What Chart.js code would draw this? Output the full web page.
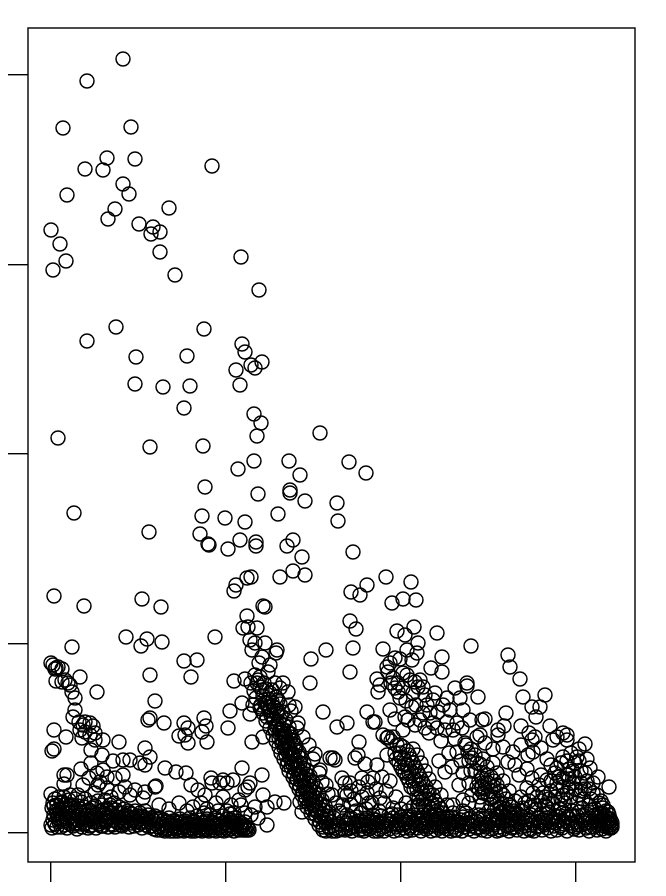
<!DOCTYPE html>
<html>
<head>
<meta charset="utf-8">
<style>
html, body { margin: 0; padding: 0; background: #fff; }
#wrap { width: 666px; height: 896px; }
</style>
<script src="https://cdn.jsdelivr.net/npm/chart.js@4/dist/chart.umd.min.js"></script>
</head>
<body>
<div id="wrap"><canvas id="scatter" width="666" height="896"></canvas></div>
<script>
// axis ticks (the reference has no tick labels)
const xTicks = [0, 175, 350, 525];
const yTicks = [0, 189.5, 379, 568.5, 758];

// values, [x, y]
const upperPts = [[72,774],[36,752],[12,705],[80,706],[56,675],[84,674],[34,664],[52,663],[161,667],[72,649],[78,639],[16,638],[118,625],[64,624],[57,614],[88,609],[102,606],[100,599],[109,601],[0,603],[9,589],[15,572],[2,563],[109,581],[190,576],[124,558],[208,543],[65,506],[153,504],[36,492],[191,489],[194,481],[85,476],[136,477],[211,471],[200,468],[204,465],[185,463],[189,448],[84,449],[112,446],[139,447],[133,425],[203,419],[210,410],[206,397],[269,400],[7,395],[99,386],[152,387],[203,372],[187,364],[238,372],[249,358],[298,371],[315,360],[154,346],[239,343],[239,340],[207,339],[254,332],[286,330],[287,312],[23,320],[151,317],[174,315],[194,311],[227,319],[98,301],[149,299],[157,289],[158,288],[177,284],[189,293],[205,291],[205,287],[242,293],[236,287],[251,276],[302,281],[242,262],[254,258],[229,256],[196,255],[200,256],[185,248],[183,242],[300,241],[316,248],[309,238],[335,256],[360,251],[341,230],[352,234],[365,233],[3,237],[33,227],[91,234],[110,226],[212,227],[214,226]];

const midLeftPts = [[75,196],[96,194],[90,187],[111,191],[164,196],[21,186],[133,172],[146,173],[140,156],[99,158],[46,141],[104,132],[0,170],[2,168],[5,165],[7,166],[4,164],[11,164],[5,152],[11,151],[14,153],[17,150],[19,148],[21,141],[24,135],[24,123],[22,116],[29,156],[3,103],[15,96],[28,111],[32,108],[34,111],[39,110],[42,107],[29,103],[34,101],[39,98],[31,95],[44,100],[68,91],[52,93],[44,93],[1,82],[3,84],[99,115],[97,113],[113,110],[133,110],[128,97],[137,90],[137,105],[153,115],[155,107],[151,101],[156,91],[134,98],[94,85],[99,76]];

const lowLeftPts = [[40,83],[51,78],[62,72],[72,73],[79,73],[89,70],[94,68],[30,64],[13,58],[16,58],[13,49],[40,70],[46,60],[52,63],[56,56],[64,55],[72,58],[49,51],[32,48],[0,39],[94,41],[84,43],[92,35],[68,41],[56,45],[44,40],[27,38],[19,38],[114,65],[125,61],[135,60],[140,48],[147,43],[154,38],[176,50],[169,50],[161,50],[160,55],[104,46],[105,47],[172,53],[182,53],[191,65],[211,58],[194,43],[197,46],[199,50],[212,38],[204,26],[207,15],[216,8],[216,26],[224,31],[233,30],[201,91],[212,96],[165,30],[172,36],[180,28],[188,33],[150,30],[142,26],[128,30],[38,55],[47,48],[60,36],[74,46],[79,38],[108,28],[118,24],[136,22],[156,24],[176,22],[194,20],[190,28],[200,18],[183,20]];

const leftBandPts = [[0,8],[1,25],[1,5],[2,30],[2,13],[3,18],[4,34],[4,9],[5,22],[6,6],[6,28],[7,15],[8,36],[8,11],[9,20],[10,6],[10,30],[11,25],[12,14],[13,36],[13,8],[14,20],[15,29],[16,5],[16,12],[17,24],[18,33],[19,9],[20,17],[21,28],[22,7],[23,14],[24,34],[24,22],[25,10],[26,4],[27,27],[28,16],[29,9],[30,31],[30,20],[31,6],[32,13],[33,26],[34,34],[35,10],[36,18],[37,5],[38,23],[39,14],[40,30],[41,8],[42,20],[43,11],[44,27],[45,5],[46,16],[47,32],[48,9],[49,22],[50,13],[51,28],[52,7],[53,18],[54,33],[55,11],[56,24],[57,6],[58,15],[59,28],[60,9],[61,20],[62,13],[63,30],[64,6],[65,23],[66,16],[67,10],[68,26],[69,13],[70,20],[71,7],[72,15],[73,24],[74,10],[75,18],[76,12],[77,22],[78,6],[79,15],[80,10],[81,19],[82,13],[83,7],[84,22],[85,11],[86,17],[87,8],[88,14],[89,20],[90,10],[91,5],[92,16],[93,12],[94,22],[95,8],[96,14],[97,18],[98,6],[99,11],[100,15],[12,24],[27,18],[9,13],[33,9],[21,12],[41,25],[56,16],[18,21],[37,13],[50,7],[66,11],[44,18],[60,25],[74,17],[29,24],[15,16],[52,23],[70,8],[83,15],[90,17],[78,20],[62,8],[47,11],[35,22],[24,9],[6,19],[3,27],[11,31],[31,15],[54,13],[67,20],[86,12],[94,15],[58,20],[72,11],[39,7],[26,13],[43,15],[19,27],[8,24]];

const floorOnePts = [[101,7],[102,13],[103,4],[104,17],[105,9],[106,3],[107,12],[108,6],[109,15],[110,3],[111,9],[112,5],[113,13],[114,2],[115,7],[116,11],[117,4],[118,15],[119,2],[120,8],[121,5],[122,12],[123,2],[124,7],[125,4],[126,10],[127,2],[128,6],[129,14],[130,3],[131,9],[132,5],[133,2],[134,12],[135,7],[136,3],[137,10],[138,5],[139,15],[140,2],[141,8],[142,4],[143,12],[144,2],[145,6],[146,17],[147,9],[148,3],[149,13],[150,5],[151,2],[152,10],[153,20],[154,6],[155,3],[156,14],[157,8],[158,2],[159,18],[160,5],[161,11],[162,3],[163,7],[164,15],[165,2],[166,9],[167,22],[168,5],[169,12],[170,3],[171,7],[172,17],[173,2],[174,10],[175,5],[176,14],[177,3],[178,8],[179,19],[180,4],[181,11],[182,6],[183,2],[184,15],[185,8],[186,4],[187,12],[188,3],[189,7],[190,10],[191,5],[192,3],[193,8],[194,5],[195,3],[196,6],[197,4],[198,3],[112,9],[127,6],[141,11],[106,14],[119,10],[133,7],[148,8],[162,10],[176,8],[190,6],[155,12],[169,6],[183,10],[124,12],[138,3],[152,4],[166,13],[180,13],[194,11],[116,4],[130,11],[144,8],[158,6],[172,10],[186,9]];

const streamPts = [[205,135],[212,137],[218,134],[225,136],[210,128],[216,130],[222,127],[229,129],[212,120],[219,122],[226,119],[232,121],[215,112],[222,114],[228,111],[235,113],[219,105],[225,107],[231,104],[238,106],[222,98],[228,100],[234,97],[240,99],[225,92],[231,94],[237,91],[242,93],[228,86],[234,88],[239,85],[245,87],[230,80],[236,82],[242,79],[248,81],[233,74],[239,76],[245,73],[250,75],[236,68],[241,70],[247,67],[253,69],[238,62],[244,64],[250,61],[256,63],[242,56],[248,58],[253,55],[259,57],[245,50],[250,52],[256,49],[262,51],[248,44],[253,46],[259,43],[265,45],[251,38],[256,40],[262,37],[268,39],[254,32],[259,34],[265,31],[271,33],[256,26],[262,28],[268,25],[274,27],[260,20],[265,22],[271,19],[278,21],[264,14],[270,16],[276,13],[283,15],[268,8],[275,10],[282,7],[288,9],[272,3],[278,5],[285,2],[291,4],[240,122],[247,110],[252,96],[258,88],[262,74],[268,60],[275,48],[281,38],[288,22],[214,130],[221,131],[217,126],[224,125],[210,124],[219,123],[227,122],[220,118],[230,117],[223,115],[216,116],[226,109],[233,108],[229,103],[236,102],[224,104],[231,101],[238,100],[233,96],[228,95],[240,96],[236,90],[243,89],[231,90],[238,84],[233,85],[244,83],[241,78],[235,78],[247,77],[243,72],[237,71],[249,70],[246,65],[240,66],[252,65],[249,59],[243,59],[255,59],[252,53],[246,54],[258,53],[254,47],[249,47],[260,47],[257,41],[252,41],[263,41],[260,35],[255,35],[266,35],[263,29],[258,29],[269,29],[266,23],[261,24],[272,23],[270,17],[265,18],[276,17],[274,11],[269,11],[280,11],[278,6],[272,6],[284,5],[281,2],[275,2],[288,3],[203,142],[209,146],[215,144],[221,143],[200,150],[207,153],[213,150]];

const floorTwoPts = [[292,12],[294,3],[296,8],[298,14],[299,5],[301,2],[303,10],[305,6],[306,16],[308,3],[310,12],[311,7],[313,2],[315,9],[316,15],[318,4],[320,11],[321,6],[323,2],[325,13],[326,8],[328,4],[330,17],[331,10],[333,2],[335,7],[336,13],[338,4],[340,9],[341,19],[343,2],[345,6],[346,12],[348,3],[350,16],[351,8],[353,5],[355,11],[356,2],[358,14],[360,7],[361,3],[363,18],[365,9],[366,5],[368,12],[370,2],[371,7],[373,15],[375,4],[376,10],[378,6],[380,2],[381,13],[383,8],[385,3],[386,18],[388,5],[390,11],[391,2],[393,7],[395,14],[396,4],[398,9],[400,2],[401,16],[403,6],[405,11],[406,3],[408,8],[410,13],[411,2],[413,6],[415,20],[416,10],[418,4],[420,15],[421,7],[423,2],[425,12],[426,5],[428,18],[430,9],[431,3],[433,14],[435,6],[436,2],[438,11],[440,17],[441,4],[443,8],[445,13],[446,2],[448,6],[450,21],[451,10],[453,4],[455,16],[456,7],[458,2],[460,12],[461,5],[463,19],[465,9],[466,3],[468,14],[470,6],[471,22],[473,2],[475,10],[476,17],[478,4],[480,8],[481,13],[483,2],[485,24],[486,6],[488,11],[490,19],[491,3],[493,8],[495,15],[496,5],[498,21],[500,2],[501,11],[503,7],[505,17],[506,3],[508,13],[510,24],[511,5],[513,9],[515,19],[516,2],[518,14],[520,7],[521,22],[523,4],[525,11],[526,17],[528,3],[530,8],[531,25],[533,13],[535,5],[536,19],[538,2],[540,10],[541,23],[543,6],[545,15],[546,3],[548,20],[549,9],[550,13],[551,4],[552,25],[553,7],[554,17],[555,2],[556,11],[557,21],[558,5],[559,14],[560,8],[561,10],[560,12],[558,18],[561,6],[295,10],[302,6],[309,9],[317,7],[324,10],[332,6],[339,12],[347,8],[354,9],[362,11],[369,9],[377,13],[384,11],[392,9],[399,12],[407,11],[414,9],[422,11],[429,6],[437,8],[444,10],[452,12],[459,8],[467,11],[474,7],[482,10],[489,7],[497,12],[504,10],[512,12],[519,10],[527,8],[534,10],[542,12],[549,16],[556,7],[300,15],[314,13],[328,11],[342,15],[357,16],[372,10],[387,14],[402,10],[417,14],[432,17],[447,16],[462,15],[477,13],[492,13],[507,16],[522,17],[537,15],[552,12],[558,10],[297,4],[312,4],[327,2],[344,9],[359,5],[374,7],[389,7],[404,3],[419,9],[434,9],[449,3],[464,6],[479,3],[494,10],[509,7],[524,6],[539,6],[554,9],[307,12],[322,14],[337,9],[352,13],[367,15],[382,16],[397,16],[412,16],[427,14],[442,13],[457,13],[472,16],[487,15],[502,14],[517,16],[532,18],[547,12],[558,14],[551,20],[555,22],[544,18],[528,21],[512,20],[496,19],[480,18],[464,20],[448,12],[546,8],[556,15],[560,5],[553,12]];

const upperFloorPts = [[308,91],[264,79],[282,75],[279,75],[284,73],[304,75],[307,78],[314,69],[326,68],[269,63],[271,51],[291,55],[299,50],[294,50],[311,55],[317,51],[322,55],[331,56],[339,52],[294,40],[296,38],[277,39],[249,31],[251,21],[311,36],[329,35],[321,30],[342,25],[362,26],[367,28],[336,95],[349,88],[336,78],[285,30],[300,28],[305,22],[315,24],[328,22],[338,18],[350,24],[355,30],[290,20],[300,42],[308,46],[316,40],[325,44],[335,42],[345,36],[303,34],[318,30],[333,30],[347,18],[357,22],[292,28],[310,20],[322,18],[296,18]];

const topRightPts = [[196,217],[299,212],[305,204],[192,205],[197,206],[206,205],[199,193],[204,190],[214,190],[201,183],[226,183],[225,180],[211,176],[208,170],[219,168],[217,161],[204,158],[194,154],[183,152],[209,156],[206,150],[224,150],[232,150],[229,145],[237,141],[211,143],[219,140],[191,130],[179,122],[199,119],[202,128],[209,126],[244,126],[238,128],[227,133],[219,126],[177,105],[272,121],[259,150],[260,174],[275,183],[299,161],[302,185],[332,184],[316,121],[322,111],[296,110],[286,106],[246,105],[339,123],[363,206],[346,202],[354,198],[386,200],[420,187],[367,190],[356,183],[366,180],[344,175],[349,174],[361,173],[391,176],[380,165],[391,161],[457,178],[459,166],[469,154],[339,170],[336,166],[337,161],[326,154],[329,148],[327,141],[342,155],[347,150],[356,158],[359,153],[369,153],[364,151],[372,146],[367,146],[344,145],[347,141],[349,135],[382,133],[374,138],[404,145],[416,150],[416,147],[427,136],[409,135],[396,135],[472,136],[494,138],[481,126],[489,126],[485,116],[455,120],[324,111],[361,126],[354,116],[344,114],[372,120],[379,120],[387,121],[399,123],[412,123],[357,113],[369,113],[382,110],[396,111],[406,110],[419,113],[431,113],[434,114],[453,107],[447,103],[470,107],[478,100],[499,107],[512,100],[484,96],[332,98],[337,96],[342,96],[352,103],[374,105],[386,105],[394,103],[402,103],[411,105],[426,96],[429,98],[447,98],[506,96],[516,98],[534,89],[512,76],[506,65],[539,65],[547,56],[558,46],[394,61],[401,66],[429,69],[406,81],[417,81],[477,78],[482,81],[462,81],[452,86],[481,93],[502,93],[516,93],[421,75],[431,55],[457,71],[464,68],[481,55],[496,53],[412,33],[421,38],[429,36],[431,28],[402,28],[367,26],[372,18],[352,160],[340,150],[352,145],[362,140],[355,132],[365,128],[376,128],[384,140],[392,128],[364,108],[378,100],[390,92],[404,94],[414,90],[434,90],[442,84],[398,80],[410,72],[388,72],[412,60],[420,62],[408,48],[418,50],[428,44],[412,22],[418,30],[490,85],[470,88],[496,74],[468,58],[476,64]];

const streamTwoPts = [[340,92],[346,88],[352,86],[344,80],[350,76],[356,82],[362,84],[348,70],[354,68],[360,74],[366,78],[352,62],[358,60],[364,66],[370,70],[356,56],[362,52],[368,58],[374,62],[360,46],[366,44],[372,50],[378,54],[366,36],[372,34],[378,40],[384,46],[372,28],[378,26],[384,32],[390,38],[378,20],[384,18],[390,24],[396,28],[384,13],[390,11],[396,16],[402,20],[392,6],[400,9],[349,80],[353,74],[358,78],[356,68],[362,70],[360,62],[366,62],[364,54],[370,54],[368,48],[375,46],[370,40],[376,42],[382,38],[375,34],[381,30],[387,28],[380,24],[386,22],[392,20],[388,14],[394,12],[345,74],[350,66],[354,60],[358,52],[363,44],[368,34],[374,26],[380,16]];

const streamThreePts = [[415,88],[420,84],[424,78],[418,72],[426,70],[432,74],[424,62],[430,60],[436,66],[442,70],[428,52],[434,50],[440,56],[446,60],[434,44],[440,42],[446,48],[452,52],[440,34],[446,32],[452,38],[458,42],[446,24],[452,22],[458,28],[464,32],[454,16],[460,15],[466,20],[472,25],[436,58],[431,46],[437,50],[443,52],[437,38],[443,46],[449,42],[443,36],[449,30],[455,34],[449,26],[455,24],[461,26],[457,20],[463,22],[432,40],[426,46],[440,28],[438,22],[446,18]];

const humpPts = [[476,45],[482,40],[488,48],[494,36],[500,42],[506,50],[512,38],[518,46],[524,56],[530,42],[536,52],[542,40],[548,30],[484,28],[490,32],[496,26],[502,30],[508,24],[514,30],[520,36],[526,30],[532,34],[538,28],[544,24],[550,32],[478,32],[504,60],[512,55],[518,64],[524,70],[530,62],[536,74],[520,80],[528,84],[510,70],[500,68],[542,50],[490,58],[506,44],[512,46],[518,54],[524,44],[530,50],[516,40],[522,50],[528,38],[534,44],[540,34],[510,34],[504,36],[498,34],[492,40],[486,36],[516,58],[522,62],[528,72],[534,60],[538,44],[546,38],[552,28],[526,76],[516,72],[508,56],[500,52],[480,26],[474,30],[470,36],[494,28]];

const points = [].concat(upperPts, midLeftPts, lowLeftPts, leftBandPts, floorOnePts, streamPts, upperFloorPts, floorTwoPts, topRightPts, streamTwoPts, streamThreePts, humpPts)
    .map(p => ({ x: p[0], y: p[1] }));

// the R style box round the plot
const boxPlugin = {
    id: 'box',
    afterDraw(chart) {
        const a = chart.chartArea;
        const c = chart.ctx;
        c.save();
        c.strokeStyle = '#000';
        c.lineWidth = 1.4;
        c.strokeRect(a.left, a.top, a.right - a.left, a.bottom - a.top);
        c.restore();
    }
};

new Chart(document.getElementById('scatter').getContext('2d'), {
    type: 'scatter',
    data: {
        datasets: [{
            data: points,
            pointStyle: 'circle',
            pointRadius: 7,
            pointBorderWidth: 1.5,
            pointBorderColor: '#000',
            pointBackgroundColor: 'rgba(0,0,0,0)'
        }]
    },
    options: {
        responsive: false,
        animation: false,
        layout: { padding: { top: 28, right: 31, left: 0, bottom: 0 } },
        plugins: { legend: { display: false }, tooltip: { enabled: false } },
        scales: {
            x: {
                type: 'linear', min: -23, max: 584,
                afterBuildTicks: s => { s.ticks = xTicks.map(v => ({ value: v })); },
                afterFit: s => { s.height = 34; },
                ticks: { display: false },
                grid: { drawOnChartArea: false, drawTicks: true, tickLength: 20, color: '#000', lineWidth: 1.4 },
                border: { display: false }
            },
            y: {
                type: 'linear', min: -29, max: 805,
                afterBuildTicks: s => { s.ticks = yTicks.map(v => ({ value: v })); },
                afterFit: s => { s.width = 28; },
                ticks: { display: false },
                grid: { drawOnChartArea: false, drawTicks: true, tickLength: 20, color: '#000', lineWidth: 1.4 },
                border: { display: false }
            }
        }
    },
    plugins: [boxPlugin]
});
</script>
</body>
</html>
